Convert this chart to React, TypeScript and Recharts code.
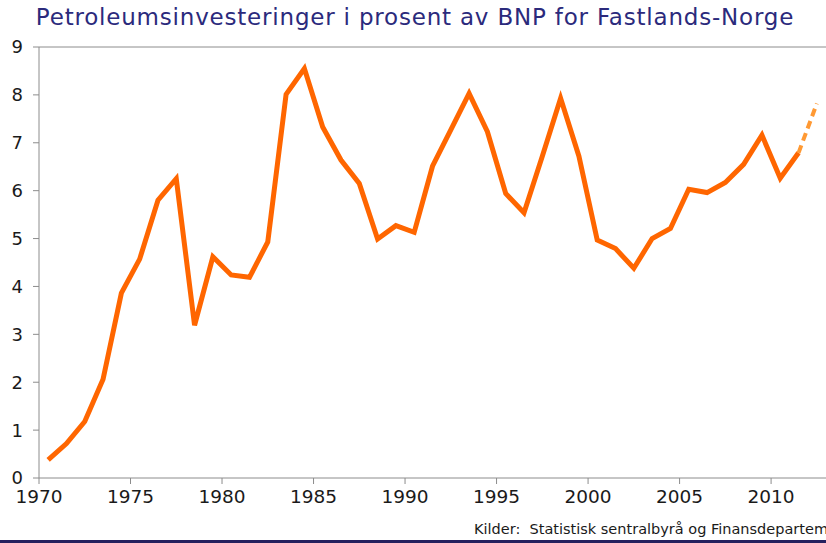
import { LineChart, Line, XAxis, YAxis, ReferenceLine } from 'recharts';

const years = [
  1970, 1971, 1972, 1973, 1974, 1975, 1976, 1977, 1978, 1979,
  1980, 1981, 1982, 1983, 1984, 1985, 1986, 1987, 1988, 1989,
  1990, 1991, 1992, 1993, 1994, 1995, 1996, 1997, 1998, 1999,
  2000, 2001, 2002, 2003, 2004, 2005, 2006, 2007, 2008, 2009,
  2010, 2011, 2012,
];

// actual figures, last one (2012) is a projection
const actual = [
  0.38, 0.72, 1.18, 2.06, 3.86, 4.57, 5.8, 6.25, 3.19, 4.62,
  4.24, 4.19, 4.93, 8.01, 8.55, 7.33, 6.64, 6.15, 4.99, 5.27,
  5.13, 6.51, 7.27, 8.03, 7.23, 5.94, 5.54, 6.72, 7.93, 6.72,
  4.97, 4.79, 4.38, 5.0, 5.21, 6.03, 5.96, 6.17, 6.55, 7.16,
  6.26, 6.79, null,
];
const projection = [
  null, null, null, null, null, null, null, null, null, null,
  null, null, null, null, null, null, null, null, null, null,
  null, null, null, null, null, null, null, null, null, null,
  null, null, null, null, null, null, null, null, null, null,
  null, 6.79, 7.82,
];

const xTicks = [1970, 1975, 1980, 1985, 1990, 1995, 2000, 2005, 2010];
const yTicks = [0, 1, 2, 3, 4, 5, 6, 7, 8, 9];

// Excel-style category axis: each year sits in the middle of its slot
const data = years.map((y, i) => ({ x: y + 0.5, actual: actual[i], projection: projection[i] }));

const font = '"DejaVu Sans", Verdana, sans-serif';
const axisGray = '#8c8c8c';

export default function App() {
  return (
    <div style={{ position: 'absolute', left: 0, top: 0, width: 826, height: 543, overflow: 'hidden', background: '#fff', fontFamily: font }}>
      <div style={{ position: 'absolute', left: 0, top: 4, width: 830, textAlign: 'center', fontSize: 23, letterSpacing: 0.8, color: '#2b2a7c', whiteSpace: 'nowrap' }}>
        Petroleumsinvesteringer i prosent av BNP for Fastlands-Norge
      </div>
      <div style={{ position: 'absolute', top: 0, left: 0 }}>
        <LineChart width={826} height={543} data={data} margin={{ top: 47, right: 0, left: 0, bottom: 0 }}>
          <XAxis
            type="number"
            dataKey="x"
            domain={[1970, 2013]}
            ticks={xTicks}
            interval={0}
            allowDataOverflow
            stroke={axisGray}
            tickSize={6}
            tickMargin={6}
            height={65}
            tick={{ fill: '#1a1a1a', fontSize: 18.5, fontFamily: font }}
          />
          <YAxis
            type="number"
            domain={[0, 9]}
            ticks={yTicks}
            interval={0}
            width={39}
            stroke={axisGray}
            tickSize={6}
            tickMargin={10}
            tick={{ fill: '#1a1a1a', fontSize: 18, fontFamily: font }}
          />
          <ReferenceLine y={9} stroke={axisGray} />
          <Line
            dataKey="actual"
            stroke="#ff6600"
            strokeWidth={5}
            dot={false}
            strokeLinejoin="miter"
            isAnimationActive={false}
          />
          <Line
            dataKey="projection"
            stroke="#ff9933"
            strokeWidth={4}
            strokeDasharray="8 5"
            dot={false}
            isAnimationActive={false}
          />
        </LineChart>
      </div>
      <div style={{ position: 'absolute', left: 474, top: 521, fontSize: 14.5, color: '#1a1a1a', whiteSpace: 'pre' }}>
        {'Kilder:  Statistisk sentralbyrå og Finansdepartementet'}
      </div>
      <div style={{ position: 'absolute', left: 0, top: 540, width: 826, height: 3, background: '#24205e' }} />
    </div>
  );
}
